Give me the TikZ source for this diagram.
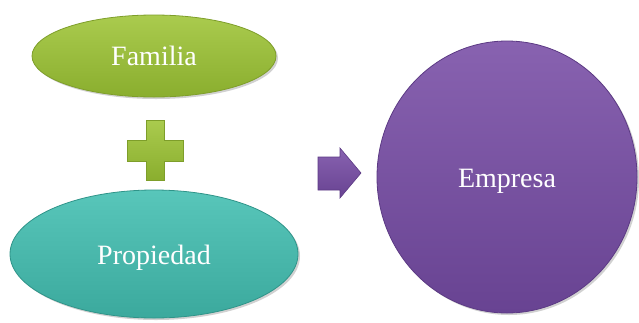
\documentclass[tikz,border=0pt]{standalone}
\usepackage{fontspec}
\setmainfont{Liberation Serif}
\usetikzlibrary{shapes.geometric}
\definecolor{gtop}{HTML}{AACB4E}
\definecolor{gbot}{HTML}{8AAE2E}
\definecolor{gline}{HTML}{7E9E2A}
\definecolor{ttop}{HTML}{58C6BA}
\definecolor{tbot}{HTML}{3BA99D}
\definecolor{tline}{HTML}{2F9489}
\definecolor{ptop}{HTML}{8862B0}
\definecolor{pbot}{HTML}{684392}
\definecolor{pline}{HTML}{5C3A84}
\tikzset{
  lbl/.style={text=white, font=\fontsize{28}{30}\selectfont, inner sep=0pt},
  shapebox/.style={ellipse, inner sep=0pt, line width=0.8pt},
  shade/.style={fill=black, opacity=0.18},
}
\begin{document}
\begin{tikzpicture}[x=1pt,y=-1pt]
\useasboundingbox (0,0) rectangle (639,322);
% shadows
\fill[shade] (156,58) ellipse[x radius=122,y radius=41];
\fill[shade] (156,256) ellipse[x radius=144,y radius=64];
\fill[shade] (509,179) ellipse[x radius=130,y radius=136];
% shapes
\node[shapebox, draw=gline, top color=gtop, bottom color=gbot,
      minimum width=244pt, minimum height=82pt] (fam) at (154,56) {};
\node[shapebox, draw=tline, top color=ttop, bottom color=tbot,
      minimum width=288pt, minimum height=128pt] (prop) at (154,254) {};
\node[shapebox, draw=pline, top color=ptop, bottom color=pbot,
      minimum width=260pt, minimum height=272pt] (emp) at (507,177) {};
\node[lbl] (famt) at ([yshift=0pt]fam.center) {Familia};
\node[lbl] (propt) at ([yshift=-4pt]prop.center) {Propiedad};
\node[lbl] (empt) at ([yshift=-4pt]emp.center) {Empresa};
% plus sign
\coordinate (plus) at (155,150);
\path[draw=gline, line width=0.6pt, top color=gtop, bottom color=gbot]
  ([shift={(-9,-30)}]plus) -- ([shift={(9,-30)}]plus) -- ([shift={(9,-10)}]plus)
  -- ([shift={(28,-10)}]plus) -- ([shift={(28,11)}]plus) -- ([shift={(9,11)}]plus)
  -- ([shift={(9,30)}]plus) -- ([shift={(-9,30)}]plus) -- ([shift={(-9,11)}]plus)
  -- ([shift={(-28,11)}]plus) -- ([shift={(-28,-10)}]plus) -- ([shift={(-9,-10)}]plus) -- cycle;
% arrow
\coordinate (arr) at (318,173);
\path[draw=pline, line width=0.6pt, top color=ptop, bottom color=pbot]
  ([shift={(0,-16)}]arr) -- ([shift={(22,-16)}]arr) -- ([shift={(22,-25)}]arr)
  -- ([shift={(43,0)}]arr) -- ([shift={(22,25)}]arr) -- ([shift={(22,17)}]arr)
  -- ([shift={(0,17)}]arr) -- cycle;
\end{tikzpicture}
\end{document}
